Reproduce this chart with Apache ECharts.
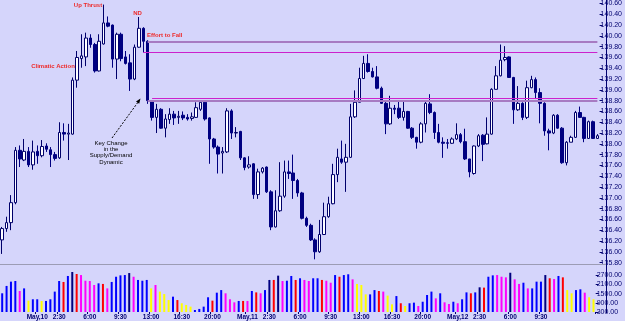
<!DOCTYPE html>
<html>
<head>
<meta charset="utf-8">
<script src="https://cdn.jsdelivr.net/npm/echarts@6/dist/echarts.min.js"></script>
<style>
  html, body { margin: 0; padding: 0; background: #d5d5fb; }
  #chart { width: 625px; height: 321px; }
</style>
</head>
<body>
<div id="chart"></div>
<script>
// 30 minute bars, first bar is May 9 20:00
var opens = [136.22,136.43,136.54,136.91,137.88,137.70,137.86,137.61,137.86,137.78,137.96,137.89,137.80,137.74,138.21,138.18,138.18,139.18,139.58,139.61,
  139.96,139.84,139.35,139.85,140.24,140.20,139.57,140.03,139.61,139.50,139.20,139.79,140.14,139.90,138.80,138.49,138.64,138.29,138.45,138.55,
  138.49,138.53,138.49,138.47,138.49,138.64,138.77,138.48,138.09,137.94,137.83,137.85,138.61,138.20,138.23,137.74,137.57,137.63,137.06,137.48,
  137.57,137.11,136.46,136.76,137.03,137.48,137.46,137.32,137.09,136.62,136.49,136.22,136.00,136.32,136.65,136.89,137.43,137.72,137.66,137.75,
  138.50,138.77,139.21,139.49,139.34,139.24,139.03,138.75,138.37,138.66,138.66,138.49,138.60,138.29,138.12,138.03,138.37,138.74,138.58,138.21,
  138.03,138.02,138.01,138.09,138.17,138.04,137.72,137.45,137.96,138.16,138.00,138.18,139.01,139.26,139.56,139.61,139.23,138.63,138.75,138.49,
  139.04,139.19,138.95,138.75,138.24,138.20,138.53,138.29,137.65,138.03,138.12,138.58,138.49,138.10,138.41,138.10];
var closes = [136.43,136.54,136.91,137.88,137.72,137.86,137.61,137.85,137.78,137.95,137.90,137.80,137.73,138.21,138.18,138.20,139.18,139.60,139.63,139.96,
  139.84,139.35,139.90,140.24,140.18,139.57,140.03,139.58,139.49,139.20,139.79,140.14,139.90,138.80,138.49,138.64,138.29,138.46,138.55,138.48,
  138.51,138.48,138.46,138.50,138.67,138.77,138.46,138.09,137.94,137.81,137.86,138.61,138.20,138.21,137.74,137.56,137.61,137.06,137.48,137.55,
  137.11,136.46,136.76,137.03,137.48,137.45,137.32,137.09,136.62,136.49,136.22,136.00,136.32,136.65,136.89,137.43,137.75,137.66,137.75,138.50,
  138.77,139.21,139.49,139.34,139.24,139.03,138.75,138.37,138.66,138.64,138.49,138.60,138.29,138.12,138.03,138.37,138.75,138.58,138.21,138.03,
  138.01,138.01,138.09,138.17,138.04,137.72,137.48,137.96,138.15,137.99,138.18,139.01,139.26,139.55,139.60,139.23,138.63,138.75,138.49,139.04,
  139.19,138.95,138.75,138.24,138.20,138.53,138.29,137.65,138.03,138.12,138.58,138.49,138.10,138.41,138.10,138.15];
var lows = [135.96,136.37,136.40,136.88,137.57,137.68,137.57,137.52,137.63,137.75,137.85,137.57,137.69,137.72,138.06,137.70,138.17,139.04,139.41,139.44,
  139.78,139.32,139.34,139.84,140.16,139.41,139.20,139.53,139.47,138.98,139.18,139.78,139.69,138.74,138.43,138.20,138.28,138.12,138.37,138.35,
  138.37,138.44,138.43,138.43,138.48,138.61,138.43,137.63,137.91,137.45,137.45,137.83,138.09,138.12,137.70,137.51,137.54,136.98,136.98,137.45,
  137.09,136.40,136.45,136.74,137.00,137.35,136.98,137.02,136.60,136.46,136.20,135.86,135.98,136.31,136.63,136.88,137.29,137.63,137.11,137.74,
  138.48,138.77,139.20,139.32,139.23,139.01,138.74,138.18,138.35,138.55,138.46,138.43,138.28,138.09,137.91,138.01,138.21,138.55,138.09,138.01,
  137.74,137.91,138.00,138.07,138.01,137.70,137.38,137.43,137.94,137.68,137.99,138.17,139.01,139.25,139.53,139.22,138.37,138.61,138.44,138.46,
  139.03,138.83,138.38,138.15,137.88,138.18,138.28,137.63,137.60,138.03,138.11,138.48,138.03,138.09,138.09,138.09];
var highs = [136.46,136.65,137.05,137.94,137.97,138.09,137.94,138.06,137.97,138.07,138.01,137.94,137.85,138.40,138.38,138.37,139.23,139.72,140.03,140.06,
  140.03,139.87,140.03,140.58,140.36,140.21,140.06,140.06,139.72,139.66,139.84,140.35,140.16,139.92,138.81,138.74,138.66,138.55,138.66,138.61,
  138.61,138.60,138.55,138.58,138.77,138.80,138.80,138.49,138.11,137.97,137.94,138.66,138.64,138.31,138.24,137.75,137.77,137.64,137.54,137.57,
  137.58,137.14,137.14,137.66,137.69,137.69,137.80,137.35,137.11,136.65,136.52,136.25,136.59,136.91,137.02,137.63,137.91,138.06,138.00,138.74,
  138.99,139.41,139.63,139.66,139.41,139.44,139.06,138.80,138.89,138.72,138.80,138.80,138.61,138.31,138.13,138.40,138.80,138.92,138.60,138.37,
  138.12,138.09,138.12,138.38,138.20,138.28,137.72,137.97,138.18,138.18,138.49,139.03,139.44,139.84,139.81,139.62,139.24,139.07,138.77,139.17,
  139.26,139.23,139.03,138.77,138.28,138.55,138.55,138.31,138.05,138.15,138.61,138.69,138.50,138.43,138.43,138.18];

var volumes = [1520,2000,2280,2320,1670,1840,1040,1130,1130,1020,1020,1130,1630,2320,2260,2650,2910,2780,2710,2340,
  2320,2060,2170,2130,1840,2260,2600,2690,2710,2840,2600,2390,2340,2390,1840,2060,1630,1470,1080,1300,
  1080,870,760,650,430,500,650,1260,1040,1560,1730,1520,1130,930,1020,1020,1020,1670,1580,1520,
  1730,2390,2390,2670,2320,2340,2650,2390,2500,2390,2320,2500,2500,2390,2340,2210,2710,2600,2710,2760,
  2430,2130,2060,1450,1450,1730,1670,1630,1370,800,1340,870,690,870,910,690,970,1410,1630,1190,
  1520,930,820,970,870,1130,1580,1520,1580,1910,1890,2600,2690,2710,2600,2560,2860,2430,2130,2210,
  1840,1840,2280,2280,2710,2500,2450,2650,2560,1730,1520,1730,1780,1560,1260,1130];
// b blue, n navy, r red, m magenta, y yellow
var volColors = 'bbbbmbybbybbbbrbnrmmmmbrmbbbbnmbbbymyyybryyybbbbrbbmmmbrmbrmbnrnmbbrbmmbbrmmbrbbmyyybbrmyybrybbmbbbmbmmbmbbrbnrbbmmmnmmbmbbbnrmbryybbmyy';
var volPalette = { b: '#0000ff', n: '#000080', r: '#ff0000', m: '#ff00ff', y: '#ffff00' };

var labelIdx = [8, 13, 20, 27, 34, 41, 48, 56, 61, 68, 75, 82, 89, 96, 104, 109, 116, 123];
var priceTicks = { min: 135.8, max: 140.6, step: 0.2 };
var volTicks = { min: 300, max: 3300, step: 600 };

// support / resistance levels [price, start bar, colour, width]
var levels = [
  [139.89, 33, '#a77bc2', 2],
  [139.70, 32, '#cc22cc', 1],
  [138.84, 34, '#cc22cc', 1],
  [138.79, 33, '#a77bc2', 2]
];

var categories = [];
(function () {
  var t = Date.UTC(2010, 4, 9, 20, 0);
  for (var i = 0; i < opens.length; i++) {
    var d = new Date(t + i * 1800000);
    var h = d.getUTCHours(), m = d.getUTCMinutes();
    if (h === 0 && m === 0) categories.push('May,' + d.getUTCDate());
    else categories.push(h + ':' + (m < 10 ? '0' + m : m));
  }
})();

var candleData = opens.map(function (o, i) {
  return [o, closes[i], lows[i], highs[i]];
});
var volData = volumes.map(function (v, i) {
  return { value: v, itemStyle: { color: volPalette[volColors[i]] } };
});

var last = opens.length - 1;
var levelLines = levels.map(function (l) {
  return [
    { coord: [l[1], l[0]], lineStyle: { color: l[2], width: l[3], type: 'solid' } },
    { coord: [last, l[0]] }
  ];
});

var chart = echarts.init(document.getElementById('chart'), null, { renderer: 'canvas' });

var navy = '#000070';
var font = 'Liberation Sans, Arial, sans-serif';

var option = {
  backgroundColor: '#d5d5fb',
  animation: false,
  grid: [
    { left: -3, top: 2.17, width: 609.3, height: 260.4 },
    { left: -3, top: 266, width: 609.3, height: 46 }
  ],
  xAxis: [
    { type: 'category', gridIndex: 0, data: categories, show: false },
    {
      type: 'category', gridIndex: 1, data: categories,
      axisLine: { show: false },
      axisTick: { show: true, length: 2, interval: function (i) { return labelIdx.indexOf(i) >= 0; }, lineStyle: { color: navy } },
      axisLabel: {
        interval: function (i) { return labelIdx.indexOf(i) >= 0; },
        fontSize: 6.5, fontWeight: 'bold', color: navy, margin: 2, fontFamily: font
      }
    }
  ],
  yAxis: [
    {
      type: 'value', gridIndex: 0, position: 'right',
      min: priceTicks.min, max: priceTicks.max, interval: priceTicks.step,
      splitLine: { show: false },
      axisLine: { show: false },
      axisTick: { show: true, length: 3, lineStyle: { color: navy } },
      axisLabel: {
        fontSize: 7, color: navy, margin: 1, fontFamily: font,
        formatter: function (v) { return v.toFixed(2); }
      }
    },
    {
      type: 'value', gridIndex: 1, position: 'right',
      min: volTicks.min, max: volTicks.max, interval: volTicks.step,
      splitLine: { show: false },
      axisLine: { show: false },
      axisTick: { show: true, length: 3, lineStyle: { color: navy } },
      axisLabel: {
        fontSize: 7, color: navy, margin: 1, fontFamily: font, showMaxLabel: false,
        formatter: function (v) { return v.toFixed(2); }
      }
    }
  ],
  series: [
    {
      type: 'candlestick', xAxisIndex: 0, yAxisIndex: 0,
      data: candleData, barWidth: 3,
      itemStyle: { color: '#ffffff', color0: '#000080', borderColor: '#00006a', borderColor0: '#000080', borderWidth: 1 },
      markLine: { silent: true, symbol: 'none', label: { show: false }, data: levelLines }
    },
    {
      type: 'bar', xAxisIndex: 1, yAxisIndex: 1,
      data: volData, barWidth: 2
    }
  ],
  graphic: [
    { type: 'line', shape: { x1: 0, y1: 264.5, x2: 606, y2: 264.5 }, style: { stroke: '#9c9cb4', lineWidth: 1 }, z: 10 },
    { type: 'line', shape: { x1: 606.5, y1: 0, x2: 606.5, y2: 313 }, style: { stroke: navy, lineWidth: 1 }, z: 10 },
    { type: 'text', x: 88, y: 5, style: { text: 'Up Thrust', fill: '#ee2a2a', font: 'bold 6px ' + font, align: 'center', verticalAlign: 'middle' } },
    { type: 'text', x: 137.5, y: 13, style: { text: 'ND', fill: '#ee2a2a', font: 'bold 6px ' + font, align: 'center', verticalAlign: 'middle' } },
    { type: 'text', x: 147, y: 35.5, style: { text: 'Effort to Fall', fill: '#ee2a2a', font: 'bold 6px ' + font, align: 'left', verticalAlign: 'middle' } },
    { type: 'text', x: 53, y: 66, style: { text: 'Climatic Action', fill: '#ee2a2a', font: 'bold 6px ' + font, align: 'center', verticalAlign: 'middle' } },
    { type: 'text', x: 111, y: 143, style: { text: 'Key Change', fill: '#000', font: '6px ' + font, align: 'center', verticalAlign: 'middle' } },
    { type: 'text', x: 111, y: 149.5, style: { text: 'in the', fill: '#000', font: '6px ' + font, align: 'center', verticalAlign: 'middle' } },
    { type: 'text', x: 111, y: 155.5, style: { text: 'Supply/Demand', fill: '#000', font: '6px ' + font, align: 'center', verticalAlign: 'middle' } },
    { type: 'text', x: 111, y: 162, style: { text: 'Dynamic', fill: '#000', font: '6px ' + font, align: 'center', verticalAlign: 'middle' } },
    { type: 'line', shape: { x1: 112, y1: 138, x2: 138.5, y2: 101.5 }, style: { stroke: '#000', lineWidth: 1, lineDash: [2, 1.5] } },
    { type: 'polygon', shape: { points: [[140.5, 98.5], [139.2, 103.8], [136, 101.4]] }, style: { fill: '#000' } }
  ]
};

chart.setOption(option);
</script>
</body>
</html>
